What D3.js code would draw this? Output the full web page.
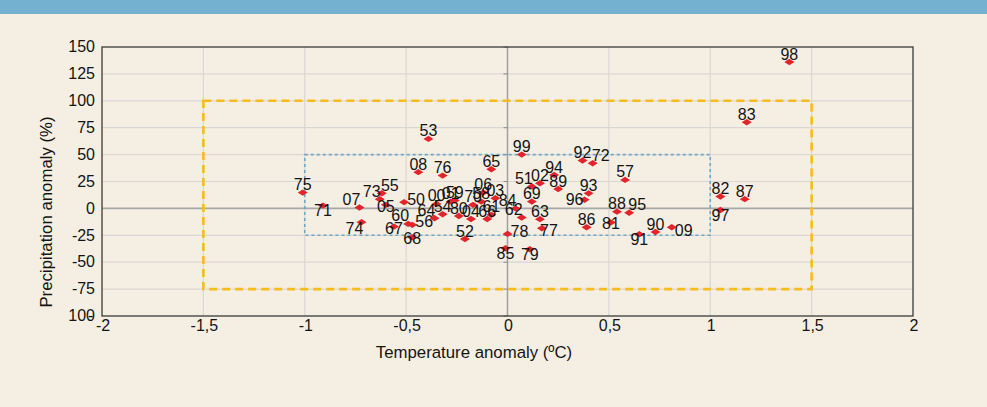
<!DOCTYPE html>
<html>
<head>
<meta charset="utf-8">
<script src="https://cdn.jsdelivr.net/npm/d3@7/dist/d3.min.js"></script>
<style>
  html, body { margin: 0; padding: 0; background: #f5efe3; }
  svg { display: block; }
  text { font-family: "Liberation Sans", Arial, Helvetica, sans-serif; fill: #141414; }
</style>
</head>
<body>
<svg id="chart" width="987" height="407"></svg>
<script>
// Year labels (two digits), temperature anomaly (ºC) and precipitation anomaly (%)
const years = ["50","51","52","53","54","55","56","57","58","59",
               "60","61","62","63","64","65","66","67","68","69",
               "70","71","72","73","74","75","76","77","78","79",
               "80","81","82","83","84","85","86","87","88","89",
               "90","91","92","93","94","95","96","97","98","99",
               "00","01","02","03","04","05","06","07","08","09"];
const tempAnomaly = [-0.51, 0.12, -0.21, -0.39, -0.32, -0.62, -0.47, 0.58, -0.13, -0.26,
                     -0.49, -0.08, 0.07, 0.16, -0.36, -0.08, -0.10, -0.56, -0.47, 0.12,
                     -0.17, -0.91, 0.42, -0.63, -0.72, -1.01, -0.32, 0.17, 0.00, 0.11,
                     -0.24, 0.51, 1.05, 1.18, 0.04, -0.01, 0.39, 1.17, 0.54, 0.25,
                     0.73, 0.65, 0.37, 0.40, 0.23, 0.60, 0.38, 1.05, 1.39, 0.07,
                     -0.35, -0.28, 0.16, -0.06, -0.18, -0.60, -0.12, -0.73, -0.44, 0.81];
const precipAnomaly = [5.8, 20.3, -28.4, 64.6, -5.4, 14.1, -15.3, 26.5, 6.3, 7.3,
                       -14.4, -6.0, -8.5, -10.0, -9.1, 36.4, -9.8, -16.9, -26.8, 6.3,
                       3.3, 2.6, 42.0, 8.6, -12.8, 14.7, 30.5, -18.4, -23.7, -38.0,
                       -7.0, -13.0, 11.0, 80.0, 0.0, -37.0, -17.5, 8.6, -3.0, 18.0,
                       -22.0, -24.0, 44.5, 14.0, 31.0, -4.0, 8.0, -1.5, 136.0, 50.0,
                       4.2, 6.3, 23.4, 9.5, -9.8, 3.3, 14.7, 0.8, 33.7, -17.5];

// Axis ticks
const xTicks = [-2, -1.5, -1, -0.5, 0, 0.5, 1, 1.5, 2];
const yTicks = [150, 125, 100, 75, 50, 25, 0, -25, -50, -75, -100];

// Reference boxes: outer (temperature ±1.5, precipitation -75..100), inner (±1, -25..50)
const outerBox = { x0: -1.5, x1: 1.5, y0: -75, y1: 100 };
const innerBox = { x0: -1, x1: 1, y0: -25, y1: 50 };

// Where a year's label sits relative to its point (default: above)
const labelSide = {
  "71": "b", "85": "b", "79": "b", "91": "b", "97": "b",
  "74": "bl",
  "05": "o", "67": "o", "68": "o", "81": "o",
  "56": "r", "78": "r", "50": "r",
  "09": "rb", "77": "or",
  "96": "l",
  "73": "al", "07": "al", "60": "al", "64": "al", "84": "al", "62": "al", "51": "al",
  "55": "ar", "95": "ar", "72": "ar"
};
const sideOffset = {
  a: [0, -8], al: [-8, -8], ar: [8, -8],
  b: [0, 5], bl: [-7, 6], o: [0, 1.5], or: [7, 2],
  r: [12, -3], rb: [12, 3], l: [-10, 0]
};

const points = years.map((yr, i) => ({ yr, t: tempAnomaly[i], p: precipAnomaly[i] }));

const svg = d3.select("#chart");
const W = 987, H = 407;

// page background and header band
svg.append("rect").attr("width", W).attr("height", H).attr("fill", "#f5efe3");
svg.append("rect").attr("width", W).attr("height", 14).attr("fill", "#74b1d0");

const plot = { left: 102, right: 913, top: 47, bottom: 316 };
const x = d3.scaleLinear().domain([-2, 2]).range([plot.left, plot.right]);
const y = d3.scaleLinear().domain([-100, 150]).range([plot.bottom, plot.top]);

const fmt = v => String(v).replace(".", ",");

// gridlines
const grid = svg.append("g");
grid.selectAll(".gx").data(xTicks.filter(v => v !== 0 && v !== -2 && v !== 2)).join("line")
  .attr("x1", d => x(d)).attr("x2", d => x(d))
  .attr("y1", plot.top).attr("y2", plot.bottom)
  .attr("stroke", "#d9d7d2").attr("stroke-width", 1.2);
grid.selectAll(".gy").data(yTicks.filter(v => v !== 0 && v !== 150 && v !== -100)).join("line")
  .attr("x1", plot.left).attr("x2", plot.right)
  .attr("y1", d => y(d)).attr("y2", d => y(d))
  .attr("stroke", "#d9d7d2").attr("stroke-width", 1.2);

// zero lines
svg.append("line").attr("x1", x(0)).attr("x2", x(0)).attr("y1", plot.top).attr("y2", plot.bottom)
  .attr("stroke", "#a0a0a0").attr("stroke-width", 1.5);
svg.append("line").attr("x1", plot.left).attr("x2", plot.right).attr("y1", y(0)).attr("y2", y(0))
  .attr("stroke", "#a8a8a8").attr("stroke-width", 1.8);

// small tick marks on the vertical zero line
svg.append("g").selectAll("line").data(yTicks).join("line")
  .attr("x1", x(0) - 4).attr("x2", x(0))
  .attr("y1", d => y(d)).attr("y2", d => y(d))
  .attr("stroke", "#8a8a8a").attr("stroke-width", 1);

// plot frame
svg.append("rect")
  .attr("x", plot.left).attr("y", plot.top)
  .attr("width", plot.right - plot.left).attr("height", plot.bottom - plot.top)
  .attr("fill", "none").attr("stroke", "#3a3a3a").attr("stroke-width", 1.3);

// reference boxes
function box(b, color, width, dash) {
  svg.append("rect")
    .attr("x", x(b.x0)).attr("y", y(b.y1))
    .attr("width", x(b.x1) - x(b.x0)).attr("height", y(b.y0) - y(b.y1))
    .attr("fill", "none").attr("stroke", color)
    .attr("stroke-width", width).attr("stroke-dasharray", dash);
}
box(outerBox, "#f7bb1c", 2.6, "8,5");
box(innerBox, "#6ea7c8", 1.6, "3,3");

// axis tick labels
const tickSize = 16;
const digitW = tickSize * 0.556;
svg.append("g").selectAll("text").data(yTicks).join("text")
  .attr("y", d => y(d)).attr("dy", "0.33em")
  .attr("font-size", tickSize)
  .each(function (d) {
    const t = d3.select(this);
    if (d === -100) {
      // the minus sign sits over the final zero of this label
      const start = 95 - 3 * digitW;
      t.attr("text-anchor", "start");
      t.append("tspan").attr("x", start + 2 * digitW + 1.8).text("-");
      t.append("tspan").attr("x", start).text("100");
    } else {
      t.attr("x", 95).attr("text-anchor", "end").text(fmt(d));
    }
  });

svg.append("g").selectAll("text").data(xTicks).join("text")
  .attr("x", d => x(d) + 1).attr("y", 331)
  .attr("text-anchor", "middle").attr("font-size", tickSize)
  .text(d => fmt(d));

// axis titles
svg.append("text").attr("x", 474).attr("y", 358)
  .attr("text-anchor", "middle").attr("font-size", 16.8)
  .text("Temperature anomaly (ºC)");
svg.append("text")
  .attr("transform", "translate(52,212) rotate(-90)")
  .attr("text-anchor", "middle").attr("font-size", 16.8)
  .text("Precipitation anomaly (%)");

// points
const diamond = "M-5,0L0,-3.2L5,0L0,3.2Z";
svg.append("g").selectAll("path").data(points).join("path")
  .attr("d", diamond)
  .attr("transform", d => `translate(${x(d.t)},${y(d.p)})`)
  .attr("fill", "#e5232a");

// year labels
svg.append("g").selectAll("text").data(points).join("text")
  .attr("x", d => x(d.t) + sideOffset[labelSide[d.yr] || "a"][0])
  .attr("y", d => y(d.p) + sideOffset[labelSide[d.yr] || "a"][1])
  .attr("dy", "0.35em")
  .attr("text-anchor", "middle").attr("font-size", 16)
  .text(d => d.yr);
</script>
</body>
</html>
